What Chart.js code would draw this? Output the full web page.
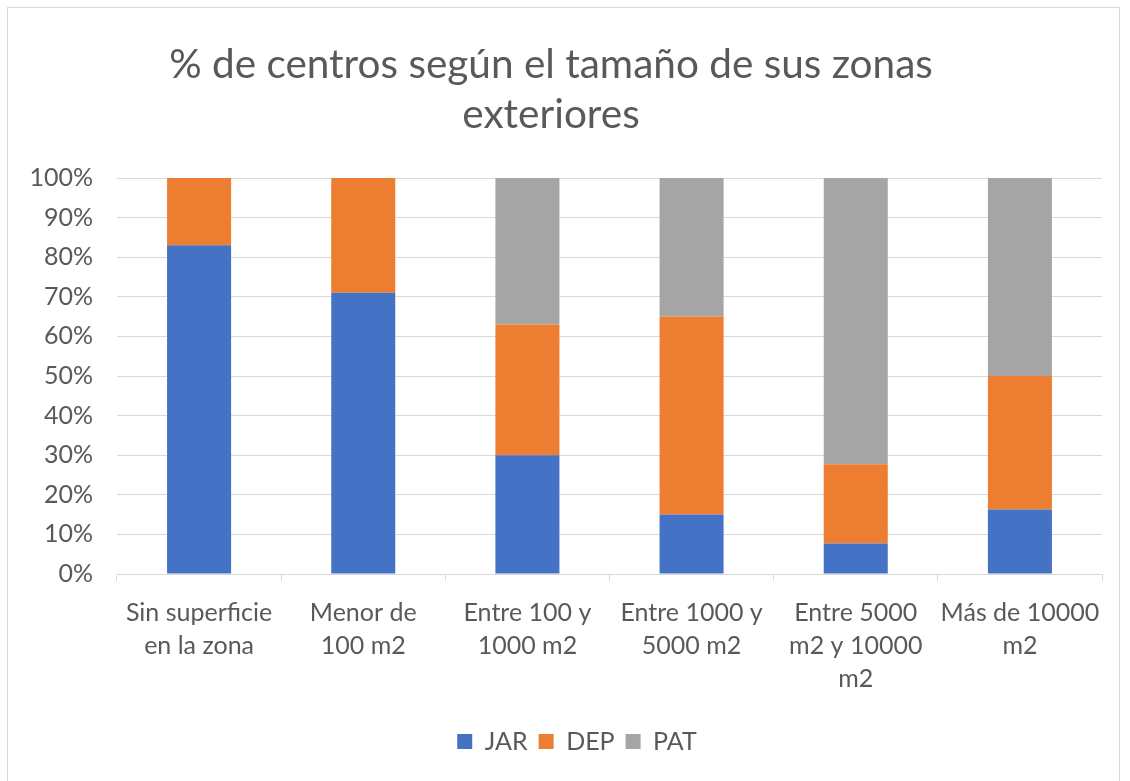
<!DOCTYPE html>
<html>
<head>
<meta charset="utf-8">
<script src="https://cdn.jsdelivr.net/npm/chart.js@4.4.1/dist/chart.umd.min.js"></script>
<style>
  html, body { margin: 0; padding: 0; background: #ffffff; }
  #wrap { position: absolute; left: 0; top: 0; width: 1130px; height: 781px; }
  #frame { position: absolute; left: 7px; top: 7px; width: 1111px; height: 790px; border: 1px solid #d9d9d9; pointer-events: none; }
</style>
</head>
<body>
<div id="wrap"><canvas id="c" width="1130" height="781"></canvas></div>
<div id="frame"></div>
<script>
const titleLines = ["% de centros según el tamaño de sus zonas", "exteriores"];
const categories = [
  ["Sin superficie", "en la zona"],
  ["Menor de", "100 m2"],
  ["Entre 100 y", "1000 m2"],
  ["Entre 1000 y", "5000 m2"],
  ["Entre 5000", "m2 y 10000", "m2"],
  ["Más de 10000", "m2"]
];
const seriesNames = ["JAR", "DEP", "PAT"];
const jarValues = [83, 71, 30, 15, 7.7, 16.3];
const depValues = [17, 29, 33, 50, 20, 33.7];
const patValues = [0, 0, 37, 35, 72.3, 50];
const yTicks = [0, 10, 20, 30, 40, 50, 60, 70, 80, 90, 100];
const colors = ["#4472C4", "#ED7D31", "#A5A5A5"];

const FONT = "Lato, 'Open Sans', sans-serif";
const TXT = "#595959";
const GRID = "#d9d9d9";

const seriesValues = [jarValues, depValues, patValues];
const datasets = seriesNames.map((n, i) => ({
  label: n,
  data: seriesValues[i],
  backgroundColor: colors[i],
  borderWidth: 0,
  barPercentage: 0.39,
  categoryPercentage: 1.0
}));

const legendShift = {
  id: "legendShift",
  afterLayout(chart) {
    if (chart.legend) { chart.legend.left += 26; chart.legend.right += 26; }
  }
};

new Chart(document.getElementById("c"), {
  type: "bar",
  data: { labels: categories, datasets: datasets },
  plugins: [legendShift],
  options: {
    responsive: false,
    animation: false,
    devicePixelRatio: 1,
    layout: { padding: { left: 0, right: 28, top: 0, bottom: 17 } },
    plugins: {
      title: {
        display: true,
        text: titleLines,
        color: TXT,
        font: { family: FONT, size: 40.5, weight: "normal", lineHeight: 1.235 },
        padding: { top: 40, bottom: 38 }
      },
      legend: {
        position: "bottom",
        labels: {
          color: TXT,
          font: { family: FONT, size: 25 },
          boxWidth: 15,
          boxHeight: 15,
          padding: 11
        }
      },
      tooltip: { enabled: false }
    },
    scales: {
      x: {
        stacked: true,
        grid: { display: true, drawOnChartArea: false, drawTicks: true, tickLength: 7, color: GRID, offset: true },
        border: { display: true, color: GRID, width: 1 },
        ticks: {
          color: TXT,
          font: { family: FONT, size: 25, lineHeight: 1.32 },
          padding: 15,
          maxRotation: 0,
          autoSkip: false
        },
        afterFit: (s) => { s.height = 144; }
      },
      y: {
        stacked: true,
        min: 0,
        max: 100,
        afterBuildTicks: (s) => { s.ticks = yTicks.map(v => ({ value: v })); },
        grid: { color: GRID, drawTicks: false, lineWidth: 1 },
        border: { display: false },
        ticks: {
          color: TXT,
          font: { family: FONT, size: 25 },
          padding: 24,
          callback: (v) => v + "%"
        },
        afterFit: (s) => { s.width = 117; }
      }
    }
  }
});
</script>
</body>
</html>
